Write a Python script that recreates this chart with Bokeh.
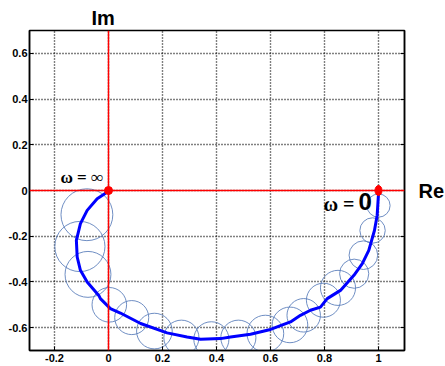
from bokeh.plotting import figure
from bokeh.models import Span, Label, FixedTicker, CustomJSTickFormatter, LinearAxis, Range1d, Title
from bokeh.embed import file_html
from bokeh.resources import INLINE

# Nominal Nyquist curve (omega = 0 -> infinity)
curve_re = [1.000, 1.000, 0.995, 0.985, 0.964, 0.940, 0.909, 0.859, 0.810, 0.785,
            0.748, 0.711, 0.674, 0.600, 0.526, 0.452, 0.415, 0.341, 0.291, 0.217,
            0.119, 0.044, 0.007, -0.030, -0.036, -0.079, -0.104, -0.116, -0.119,
            -0.104, -0.079, -0.042, -0.011, 0.000]
curve_im = [0.000, -0.015, -0.109, -0.175, -0.262, -0.320, -0.371, -0.437, -0.473, -0.510,
            -0.524, -0.546, -0.575, -0.608, -0.629, -0.641, -0.648, -0.651, -0.641, -0.623,
            -0.582, -0.536, -0.517, -0.473, -0.459, -0.400, -0.349, -0.291, -0.218,
            -0.145, -0.087, -0.036, -0.012, 0.000]

# Uncertainty discs
disc_re = [1.000, 0.978, 0.944, 0.910, 0.850, 0.796, 0.723, 0.672, 0.581, 0.481,
           0.381, 0.270, 0.170, 0.086, 0.003, -0.076, -0.106, -0.080]
disc_im = [-0.066, -0.175, -0.283, -0.364, -0.426, -0.480, -0.546, -0.588, -0.626, -0.644,
           -0.651, -0.644, -0.615, -0.556, -0.500, -0.367, -0.245, -0.106]
disc_r = [0.043, 0.047, 0.053, 0.054, 0.065, 0.063, 0.062, 0.066, 0.068, 0.065,
          0.065, 0.065, 0.066, 0.063, 0.064, 0.085, 0.093, 0.096]

x_ticks = [-0.2, 0, 0.2, 0.4, 0.6, 0.8, 1.0]
y_ticks = [-0.6, -0.4, -0.2, 0, 0.2, 0.4, 0.6]

p = figure(frame_width=375, frame_height=320,
           x_range=Range1d(-0.2926, 1.0963), y_range=Range1d(-0.7, 0.7),
           output_backend="svg", toolbar_location=None,
           min_border_left=29, min_border_top=30, min_border_right=41, min_border_bottom=14,
           background_fill_color="white", border_fill_color="white")

fmt = CustomJSTickFormatter(code="return String(Math.round(tick*10)/10);")
for ax, ticks in ((p.xaxis[0], x_ticks), (p.yaxis[0], y_ticks)):
    ax.ticker = FixedTicker(ticks=ticks)
    ax.formatter = fmt
    ax.major_label_text_font = "Liberation Sans"
    ax.major_label_text_font_style = "bold"
    ax.major_label_text_font_size = "11px"
    ax.major_label_text_color = "black"
    ax.major_tick_in = 4
    ax.major_tick_out = 0
    ax.minor_tick_line_color = None
    ax.axis_line_color = "black"
    ax.axis_line_width = 1.5
    ax.major_tick_line_color = "black"
p.xaxis.major_label_standoff = 3
p.yaxis.major_label_standoff = 2

r_ax = LinearAxis(ticker=FixedTicker(ticks=y_ticks), major_label_text_color=None,
                  major_tick_in=4, major_tick_out=0, minor_tick_line_color=None,
                  axis_line_color="black", axis_line_width=1.5,
                  major_label_text_font_size="1px", major_label_standoff=0,
                  axis_label="Re", axis_label_orientation="horizontal",
                  axis_label_standoff=14, axis_label_text_font="Liberation Sans",
                  axis_label_text_font_style="bold", axis_label_text_font_size="20px",
                  axis_label_text_color="black")
p.add_layout(r_ax, "right")

p.add_layout(Title(text="Im", align="left", offset=62, text_font="Liberation Sans",
                   text_font_style="bold", text_font_size="20px", text_color="black",
                   standoff=4), "above")

p.xgrid.ticker = FixedTicker(ticks=x_ticks)
p.ygrid.ticker = FixedTicker(ticks=y_ticks)
for g in (p.xgrid[0], p.ygrid[0]):
    g.grid_line_color = "black"
    g.grid_line_dash = "1 2"
    g.grid_line_width = 1.4
    g.grid_line_alpha = 1.0

p.outline_line_color = "black"
p.outline_line_width = 1.5

p.add_layout(Span(location=0, dimension="width", line_color="red", line_width=1.5))
p.add_layout(Span(location=0, dimension="height", line_color="red", line_width=1.5))

p.circle(disc_re, disc_im, radius=disc_r, fill_color=None,
         line_color="#5F82BD", line_width=1, line_alpha=0.9)
p.line(curve_re, curve_im, line_color="#0000FF", line_width=3)

p.scatter([curve_re[-1]], [curve_im[-1]], size=8, color="red")
p.ellipse([curve_re[0]], [curve_im[0]], width=7, height=10,
          width_units="screen", height_units="screen", color="red")

p.add_layout(Label(x=-0.178, y=0.055, text="ω = ∞", text_align="left", text_baseline="middle",
                   text_font="Liberation Serif", text_font_style="bold",
                   text_font_size="17px", text_color="black"))
p.add_layout(Label(x=0.796, y=-0.057, text="ω =", text_align="left", text_baseline="middle",
                   text_font="Liberation Serif", text_font_style="bold",
                   text_font_size="20px", text_color="black"))
p.add_layout(Label(x=0.926, y=-0.048, text="0", text_align="left", text_baseline="middle",
                   text_font="Liberation Sans", text_font_style="bold",
                   text_font_size="24px", text_color="black"))

open("out.html", "w").write(file_html(p, INLINE))
